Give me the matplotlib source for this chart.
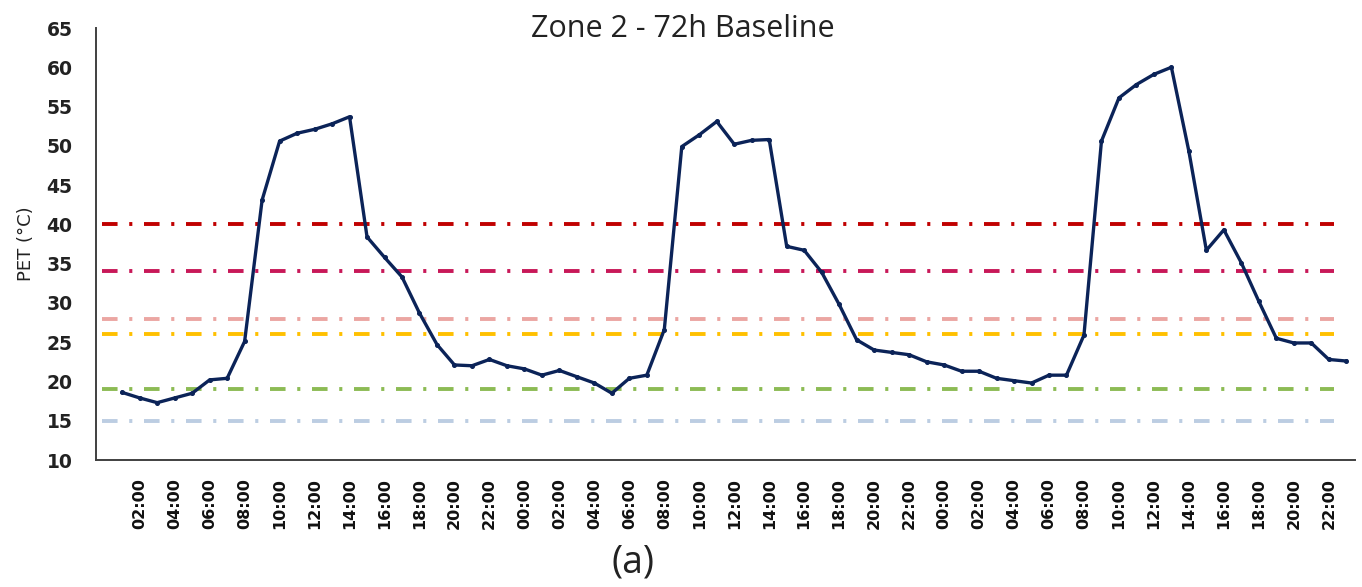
import matplotlib
matplotlib.use("Agg")
import matplotlib.pyplot as plt
import numpy as np

# ---- data ----
hours = list(range(1, 72))  # hours since 00:00 of day 1
pet = [18.6, 17.9, 17.3, 17.9, 18.5, 20.2, 20.4, 25.1, 43.1, 50.6,
       51.6, 52.1, 52.8, 53.7, 38.4, 35.8, 33.3, 28.7, 24.7, 22.1,
       22.0, 22.8, 22.0, 21.6, 20.8, 21.4, 20.6, 19.8, 18.5, 20.4,
       20.8, 26.6, 49.9, 51.4, 53.1, 50.2, 50.7, 50.8, 37.2, 36.7,
       33.9, 29.8, 25.3, 24.0, 23.7, 23.4, 22.5, 22.1, 21.3, 21.3,
       20.4, 20.1, 19.8, 20.8, 20.8, 25.9, 50.6, 56.1, 57.8, 59.1,
       60.0, 49.3, 36.7, 39.3, 35.1, 30.2, 25.5, 24.9, 24.9, 22.8,
       22.6]

tick_positions = list(range(2, 71, 2))
tick_labels = ["02:00", "04:00", "06:00", "08:00", "10:00", "12:00", "14:00",
               "16:00", "18:00", "20:00", "22:00",
               "00:00", "02:00", "04:00", "06:00", "08:00", "10:00", "12:00",
               "14:00", "16:00", "18:00", "20:00", "22:00",
               "00:00", "02:00", "04:00", "06:00", "08:00", "10:00", "12:00",
               "14:00", "16:00", "18:00", "20:00", "22:00"]

thresholds = [40, 34, 28, 26, 19, 15]
threshold_colors = ["#C00000", "#C81858", "#EBA6A2", "#FFC000", "#8CBB54", "#BCCDE2"]

y_ticks = list(range(10, 70, 5))

# ---- figure ----
fig = plt.figure(figsize=(13.62, 5.87), dpi=100)
ax = fig.add_axes([96 / 1362, 1 - 460 / 587, (1355 - 96) / 1362, (460 - 28) / 587])

for val, col in zip(thresholds, threshold_colors):
    ax.axhline(val, xmin=0.005, xmax=0.983, color=col, linewidth=2.8,
               dashes=(4.0, 3.0, 0.8, 3.0), zorder=1)

ax.plot(hours, pet, color="#0B2358", linewidth=2.4, marker="o",
        markersize=2.6, zorder=3)

ax.set_xlim(-0.5, 71.5)
ax.set_ylim(10, 65)
ax.set_yticks(y_ticks)
ax.set_yticklabels([str(v) for v in y_ticks], fontsize=13.5, fontweight="bold",
                   color="#222222")
ax.set_xticks(tick_positions)
ax.set_xticklabels(tick_labels, rotation=90, fontsize=11.5, fontweight="bold",
                   color="#111111")
ax.tick_params(axis="y", length=0, pad=17)
ax.tick_params(axis="x", length=0, pad=13)

for s in ["top", "right"]:
    ax.spines[s].set_visible(False)
for s in ["left", "bottom"]:
    ax.spines[s].set_color("#404040")
    ax.spines[s].set_linewidth(1.4)

ax.set_ylabel("PET (°C)", fontsize=13, color="#222222", labelpad=8)
fig.text(683 / 1362, 1 - 37 / 587, "Zone 2 - 72h Baseline", ha="center",
         va="baseline", fontsize=22, color="#222222", family="Open Sans")
fig.text(633 / 1362, 1 - 563 / 587, "(a)", ha="center", va="center",
         fontsize=27, color="#222222", family="Open Sans")

fig.savefig("out.png", dpi=100)
